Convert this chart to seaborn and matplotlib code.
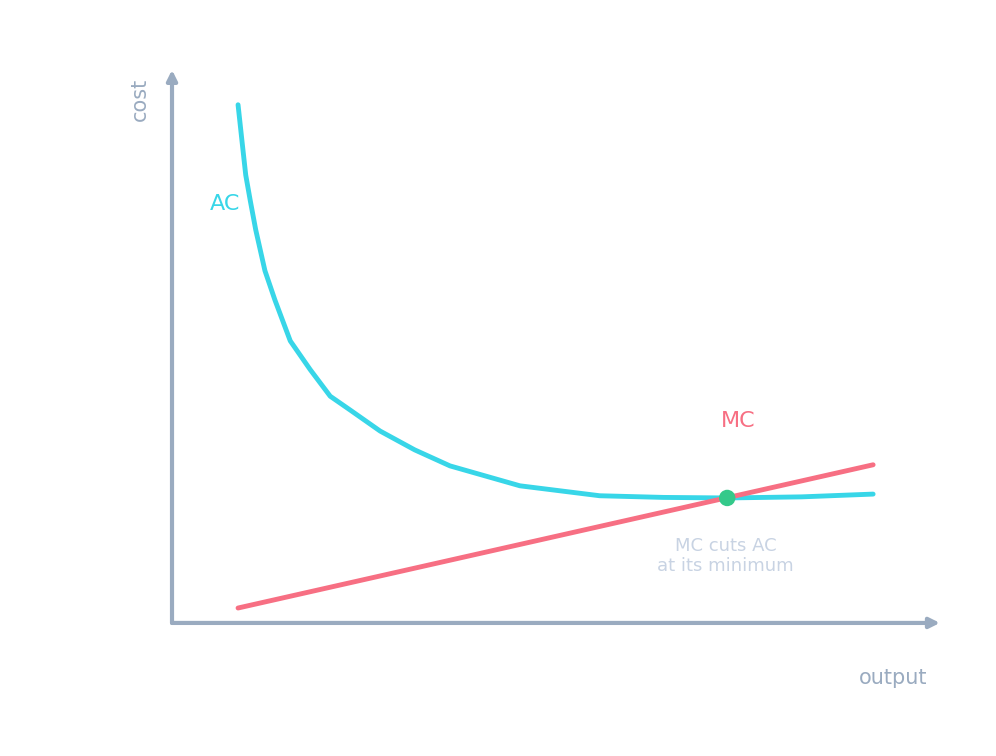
import numpy as np
import pandas as pd
import seaborn as sns
import matplotlib.pyplot as plt

# Data (arbitrary units 0-100)
ac_x = [8.6, 9.1, 9.6, 10.2, 10.9, 12.1, 13.4, 15.4, 18.0, 20.6, 23.2, 27.1, 31.6, 36.2, 45.3, 55.7, 64.0, 72.3, 82.0, 91.3]
ac_y = [93.7, 87.3, 81.0, 76.3, 71.1, 63.7, 58.4, 51.0, 45.8, 41.0, 38.5, 34.7, 31.3, 28.4, 24.8, 23.0, 22.7, 22.6, 22.8, 23.3]
mc_x = [8.6, 91.3]
mc_y = [2.7, 28.6]
min_x, min_y = [72.3], [22.6]

sns.set_style("white")
plt.rcParams['font.family'] = ['DejaVu Sans']

axis_col = '#9aabc0'
ac_col = '#38d6e8'
mc_col = '#f76f83'

fig = plt.figure(figsize=(9.96, 7.56), dpi=100)
ax = fig.add_axes([0.1727, 0.176, 0.771, 0.7315])
ax.set_xlim(0, 100)
ax.set_ylim(0, 100)
ax.axis('off')

# axes arrows
ax.annotate('', xy=(100, 0), xytext=(0, 0), annotation_clip=False,
            arrowprops=dict(arrowstyle='-|>', color=axis_col, lw=3, mutation_scale=15, shrinkA=0, shrinkB=0))
ax.annotate('', xy=(0, 100), xytext=(0, 0), annotation_clip=False,
            arrowprops=dict(arrowstyle='-|>', color=axis_col, lw=3, mutation_scale=15, shrinkA=0, shrinkB=0))

ac = pd.DataFrame({'x': ac_x, 'y': ac_y})
mc = pd.DataFrame({'x': mc_x, 'y': mc_y})
sns.lineplot(data=ac, x='x', y='y', sort=False, color=ac_col, lw=3.5, ax=ax)
sns.lineplot(data=mc, x='x', y='y', sort=False, color=mc_col, lw=3.5, ax=ax)
sns.scatterplot(x=min_x, y=min_y, color='#34c98a', s=140, edgecolor='none', zorder=5, ax=ax)
ax.axis('off')

ax.text(-4.2, 94.6, 'cost', rotation=90, color=axis_col, fontsize=15, ha='center', va='center', clip_on=False)
ax.text(93.9, -9.9, 'output', color=axis_col, fontsize=15, ha='center', va='center', clip_on=False)
ax.text(6.9, 75.8, 'AC', color=ac_col, fontsize=16, ha='center', va='center')
ax.text(73.7, 36.5, 'MC', color=mc_col, fontsize=16, ha='center', va='center')
ax.text(72.1, 12.1, 'MC cuts AC\nat its minimum', color='#c8d3e3', fontsize=13,
        ha='center', va='center', linespacing=1.1)

plt.savefig('out.png', dpi=100)
